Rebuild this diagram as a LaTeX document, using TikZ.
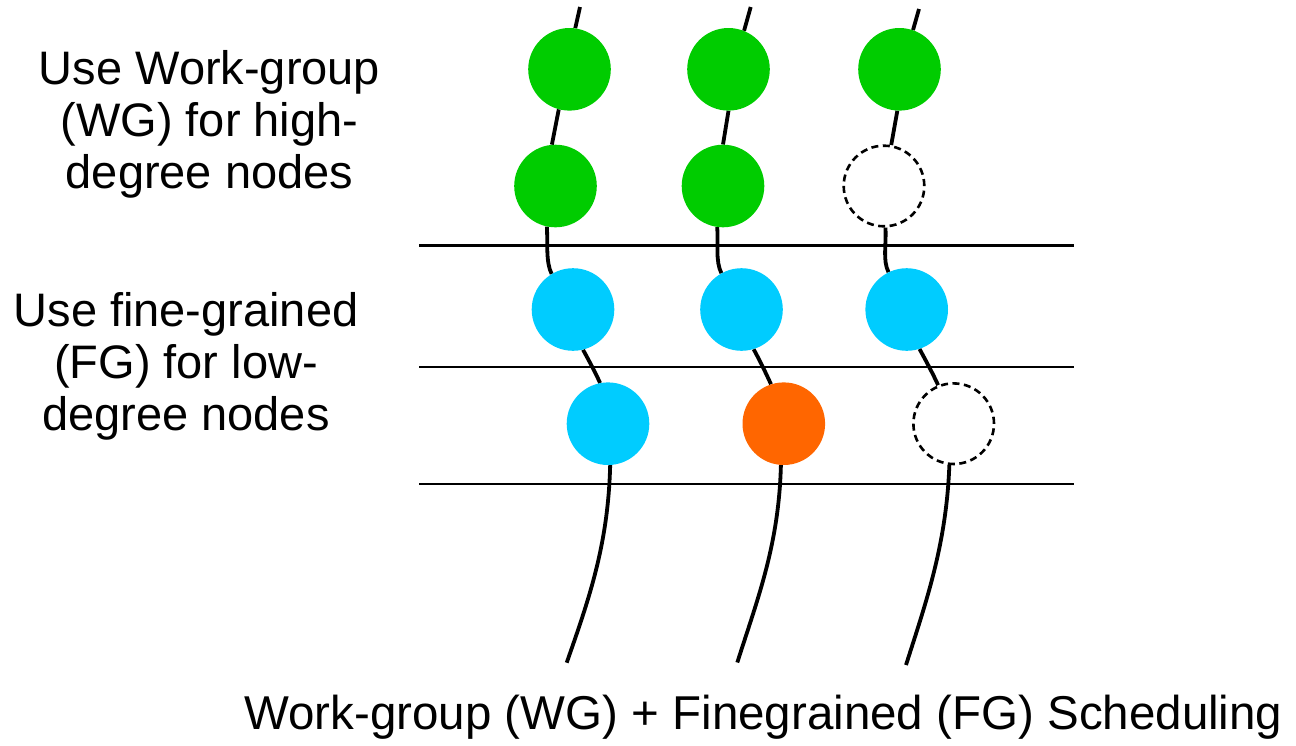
\documentclass[tikz,border=0pt]{standalone}
\usepackage{fontspec}
\setmainfont{Liberation Sans}
\usetikzlibrary{backgrounds}
\definecolor{wggreen}{HTML}{00CC00}
\definecolor{fgblue}{HTML}{00CCFF}
\definecolor{hotorange}{HTML}{FF6600}
\begin{document}
\begin{tikzpicture}[x=1pt,y=-1pt,
  vtx/.style={circle,inner sep=0pt,minimum size=82.6pt},
  wgnode/.style={vtx,fill=wggreen},
  fgnode/.style={vtx,fill=fgblue},
  hotnode/.style={vtx,fill=hotorange},
  idlenode/.style={circle,inner sep=0pt,minimum size=80.6pt,draw=black,line width=2.6pt,dash pattern=on 7pt off 4.5pt},
  wire/.style={line width=3.8pt,black},
  level/.style={line width=2.2pt,black},
  lbl/.style={inner sep=0pt,align=center,font=\fontsize{47}{51.6}\selectfont}]
\useasboundingbox (0,0) rectangle (1296,745);

% left column of work items
\node[wgnode]  (a1) at (569.5,69.3) {};
\node[wgnode]  (a2) at (555.5,186) {};
\node[fgnode]  (a3) at (573,309.5) {};
\node[fgnode]  (a4) at (608,423.7) {};
% middle column
\node[wgnode]  (b1) at (728.5,69.3) {};
\node[wgnode]  (b2) at (723,186) {};
\node[fgnode]  (b3) at (741.5,309.5) {};
\node[hotnode] (b4) at (783.8,423.7) {};
% right column
\node[wgnode]   (c1) at (899.5,69.3) {};
\node[idlenode] (c2) at (884,186) {};
\node[fgnode]   (c3) at (906.7,309.5) {};
\node[idlenode] (c4) at (953.7,423.7) {};

% free ends of the threads
\coordinate (ta) at (580,7);
\coordinate (tb) at (750.7,7);
\coordinate (tc) at (919,9);
\coordinate (ea) at (566.7,662.7);
\coordinate (eb) at (737.3,662.5);
\coordinate (ec) at (906,665);

% level separators
\coordinate (l1w) at (419,245.5);  \coordinate (l1e) at (1074,245.5);
\coordinate (l2w) at (419,367.3);  \coordinate (l2e) at (1074,367.3);
\coordinate (l3w) at (419,484.3);  \coordinate (l3e) at (1074,484.3);

\begin{pgfonlayer}{background}
  \draw[level] (l1w) -- (l1e);
  \draw[level] (l2w) -- (l2e);
  \draw[level] (l3w) -- (l3e);

  % thread a
  \draw[wire] (ta) -- (a1.82);
  \draw[wire] (a1.255) -- (a2.95);
  \draw[wire] (a2.258) .. controls +(1,17) and +(-6,-12) .. (a3.121);
  \draw[wire] (a3.284) .. controls +(6,11) and +(-5,-11) .. (a4.101);
  \draw[wire] (a4.273) .. controls +(-2,80) and +(22,-63) .. (ea);
  % thread b
  \draw[wire] (tb) -- (b1.68);
  \draw[wire] (b1.270) -- (b2.90);
  \draw[wire] (b2.262) .. controls +(1,17) and +(-6,-12) .. (b3.119);
  \draw[wire] (b3.287) .. controls +(6,11) and +(-5,-11) .. (b4.108);
  \draw[wire] (b4.266) .. controls +(-2,80) and +(20,-63) .. (eb);
  % thread c
  \draw[wire] (tc) -- (c1.71);
  \draw[wire] (c1.267) -- (c2.80);
  \draw[wire] (c2.272) .. controls +(1,17) and +(-6,-12) .. (c3.116);
  \draw[wire] (c3.288) .. controls +(6,11) and +(-5,-11) .. (c4.112);
  \draw[wire] (c4.264) .. controls +(-3,80) and +(20,-63) .. (ec);
\end{pgfonlayer}

% labels (base anchor sits on the last line)
\node[lbl,anchor=base] (wgtext) at (209.5,188) {Use Work-group\\(WG) for high-\\degree nodes};
\node[lbl,anchor=base] (fgtext) at (186,430) {Use fine-grained\\(FG) for low-\\degree nodes};
\node[lbl,anchor=base,font=\fontsize{47.5}{52}\selectfont] (caption) at (763.5,729.5) {Work-group (WG) + Finegrained (FG) Scheduling};
\end{tikzpicture}
\end{document}
